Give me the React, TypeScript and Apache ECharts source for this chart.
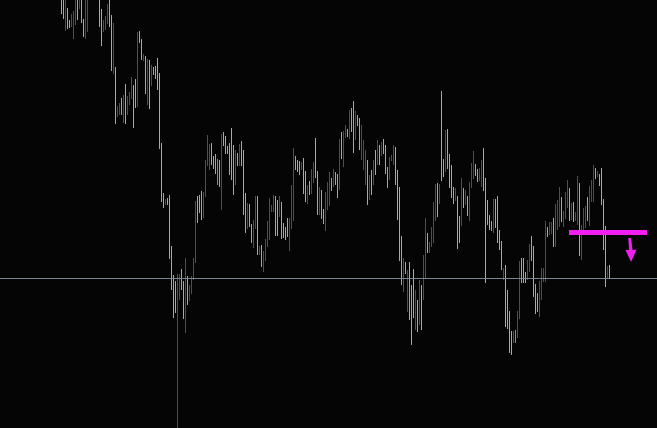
import React, { useEffect, useRef } from "react";
import * as echarts from "echarts";

// Bar-by-bar highs, lows and direction (1 = up/cyan, -1 = down/red, 0 = unchanged/green)
const highs: number[] = [
  512, 515, 508, 492, 480, 486, 489, 510, 514, 518,
  512, 481, 506, 510, 520, 524, 518, 522, 515, 505,
  491, 480, 484, 496, 506, 485, 477, 433, 394, 397,
  402, 405, 416, 404, 408, 423, 415, 421, 468, 469,
  461, 446, 444, 441, 440, 435, 433, 434, 442, 427,
  357, 307, 301, 302, 305, 254, 225, 219, 226, 226,
  231, 219, 242, 224, 215, 224, 242, 299, 304, 305,
  309, 308, 340, 365, 356, 357, 344, 346, 341, 340,
  366, 368, 364, 354, 357, 372, 355, 350, 347, 356,
  359, 350, 307, 297, 296, 276, 280, 304, 304, 254,
  255, 249, 261, 279, 302, 295, 305, 304, 300, 304,
  298, 277, 273, 282, 282, 315, 352, 344, 340, 339,
  338, 342, 329, 315, 319, 331, 338, 362, 329, 313,
  310, 291, 308, 318, 328, 322, 331, 328, 326, 361,
  368, 369, 375, 371, 390, 392, 399, 389, 385, 382,
  375, 360, 350, 340, 325, 330, 340, 350, 360, 355,
  358, 361, 355, 333, 343, 345, 355, 353, 330, 313,
  264, 242, 238, 230, 238, 215, 231, 210, 200, 220,
  215, 245, 282, 267, 258, 273, 298, 316, 317, 316,
  409, 341, 370, 371, 346, 335, 313, 312, 304, 284,
  322, 312, 310, 304, 318, 337, 349, 336, 331, 332,
  340, 352, 322, 300, 285, 279, 301, 301, 304, 270,
  259, 232, 235, 210, 189, 169, 169, 170, 189, 239,
  242, 242, 228, 240, 256, 264, 254, 216, 207, 219,
  232, 232, 279, 273, 278, 278, 282, 296, 300, 313,
  303, 289, 308, 320, 312, 297, 298, 288, 324, 317,
  275, 292, 294, 303, 314, 320, 335, 332, 329, 326,
  332, 301, 274, 234, 235,
];

const lows: number[] = [
  486, 481, 469, 471, 472, 473, 461, 475, 480, 491,
  477, 463, 461, 468, 503, 506, 502, 505, 501, 473,
  454, 468, 470, 476, 473, 429, 426, 376, 383, 385,
  385, 377, 376, 385, 395, 401, 372, 392, 393, 457,
  440, 439, 406, 395, 391, 414, 425, 421, 410, 351,
  298, 292, 295, 295, 241, 210, 182, 187, 30, 200,
  210, 181, 167, 195, 199, 206, 220, 237, 277, 287,
  280, 282, 303, 334, 330, 335, 331, 326, 315, 313,
  290, 354, 346, 346, 325, 320, 305, 315, 334, 334,
  334, 285, 267, 271, 273, 257, 252, 271, 245, 245,
  233, 228, 239, 253, 260, 288, 288, 264, 264, 283,
  261, 262, 260, 263, 249, 271, 279, 330, 328, 325,
  330, 306, 298, 296, 305, 306, 317, 322, 285, 285,
  281, 276, 269, 290, 294, 309, 313, 315, 302, 310,
  341, 333, 362, 363, 361, 368, 347, 360, 374, 350,
  340, 330, 315, 295, 300, 305, 315, 325, 335, 335,
  344, 346, 326, 312, 320, 339, 335, 315, 280, 239,
  215, 208, 226, 188, 180, 155, 182, 170, 168, 175,
  170, 200, 222, 247, 247, 253, 257, 279, 283, 296,
  319, 323, 328, 331, 312, 302, 296, 299, 251, 257,
  274, 292, 295, 284, 279, 312, 321, 324, 318, 319,
  313, 309, 217, 275, 270, 269, 267, 272, 257, 250,
  230, 220, 173, 171, 147, 145, 157, 157, 162, 181,
  217, 217, 217, 220, 228, 239, 203, 186, 188, 183,
  200, 218, 218, 263, 265, 266, 253, 253, 270, 273,
  278, 273, 281, 292, 279, 280, 278, 279, 275, 244,
  240, 266, 272, 279, 274, 298, 298, 321, 323, 314,
  295, 250, 213, 221, 222,
];

const dirs: number[] = [
  1, 1, -1, 1, 1, -1, -1, -1, 1, -1,
  1, 1, -1, -1, -1, 1, -1, 1, -1, 1,
  1, -1, -1, -1, 1, 1, -1, 1, -1, -1,
  1, -1, 1, -1, -1, -1, 1, 1, -1, 1,
  1, -1, 1, -1, 1, -1, 1, 1, 1, 1,
  1, 1, -1, 1, 1, 1, 1, 1, -1, -1,
  1, 1, -1, 1, -1, -1, -1, -1, 1, 1,
  1, -1, -1, -1, -1, 1, 1, 1, 0, 1,
  -1, 1, 1, 1, 1, 1, 1, -1, 1, -1,
  1, 1, 1, -1, 1, 1, -1, -1, 1, -1,
  1, -1, -1, -1, -1, -1, -1, 1, 1, -1,
  1, 1, 1, 1, -1, -1, -1, 1, 1, 1,
  -1, 1, 1, -1, 1, -1, -1, 1, 1, -1,
  1, 1, -1, -1, -1, 1, -1, 1, 1, -1,
  1, -1, -1, 1, -1, 1, 1, -1, 1, 1,
  -1, -1, -1, 1, -1, 1, -1, 1, -1, 1,
  -1, 1, 1, 1, -1, -1, -1, 1, 1, 1,
  1, -1, 1, -1, 1, 1, 1, -1, 1, -1,
  1, -1, -1, 1, -1, -1, -1, -1, 1, -1,
  1, 1, -1, 1, 1, 1, 1, -1, 1, 1,
  -1, 1, -1, 1, -1, -1, -1, 1, 1, -1,
  -1, 1, 1, 1, 1, 1, -1, 1, 1, 1,
  1, -1, 1, 1, 1, 1, -1, 0, -1, -1,
  1, 1, 1, -1, -1, 1, 1, 1, 1, -1,
  -1, -1, -1, 1, -1, -1, 1, -1, -1, -1,
  1, -1, -1, -1, 1, -1, 1, -1, -1, 1,
  -1, -1, -1, 1, -1, -1, -1, 1, -1, 1,
  1, 1, 1, -1, 1,
];

// Current bid level and the signal annotation
const bidPrice = 221.5;
const signalLevel = 267.5;
const signalFrom = 253.75;
const signalTo = 292.75;
const arrowIndex = 284.75;
const arrowPrice = 250;

const COLORS: Record<string, string> = { "1": "#22e0e6", "-1": "#d91414", "0": "#2ccf2c" };

export default function App() {
  const ref = useRef<HTMLDivElement>(null);

  useEffect(() => {
    if (!ref.current) return;
    const chart = echarts.init(ref.current, null, { renderer: "svg" });
    const barData = highs.map((h, i) => [i, h, lows[i], dirs[i]]);

    chart.setOption({
      animation: false,
      backgroundColor: "#050505",
      grid: { left: 0, right: 0, top: 0, bottom: 0 },
      xAxis: {
        type: "value",
        min: -30.75,
        max: 297.75,
        show: false,
        splitLine: { show: false },
      },
      yAxis: {
        type: "value",
        min: 72,
        max: 500,
        show: false,
        splitLine: { show: false },
      },
      series: [
        {
          type: "custom",
          clip: true,
          silent: true,
          encode: { x: 0, y: [1, 2] },
          data: barData,
          renderItem: (params: any, api: any) => {
            const i = api.value(0);
            const top = api.coord([i, api.value(1)]);
            const bot = api.coord([i, api.value(2)]);
            const d = String(api.value(3));
            return {
              type: "line",
              shape: { x1: top[0], y1: top[1], x2: bot[0], y2: bot[1] },
              style: { stroke: COLORS[d] || COLORS["1"], lineWidth: 1 },
            };
          },
        },
        {
          type: "scatter",
          silent: true,
          data: [[arrowIndex, arrowPrice]],
          symbol:
            "path://M2.8,0 L5.6,0 L7,12 L11,11.5 L5.6,24 L0,12 L3.6,12 Z",
          symbolSize: [11, 24],
          itemStyle: { color: "#f21ef2", opacity: 1 },
          markLine: {
            silent: true,
            symbol: ["none", "none"],
            label: { show: false },
            data: [
              [
                { coord: [-30.75, bidPrice], lineStyle: { color: "#778899", width: 1, type: "solid", opacity: 1 } },
                { coord: [297.75, bidPrice] },
              ],
              [
                { coord: [signalFrom, signalLevel], lineStyle: { color: "#f21ef2", width: 5, type: "solid", opacity: 1 } },
                { coord: [signalTo, signalLevel] },
              ],
            ],
          },
        },
      ],
    });

    return () => chart.dispose();
  }, []);

  return (
    <div
      ref={ref}
      style={{ position: "fixed", left: 0, top: 0, width: 657, height: 428, background: "#050505" }}
    />
  );
}
